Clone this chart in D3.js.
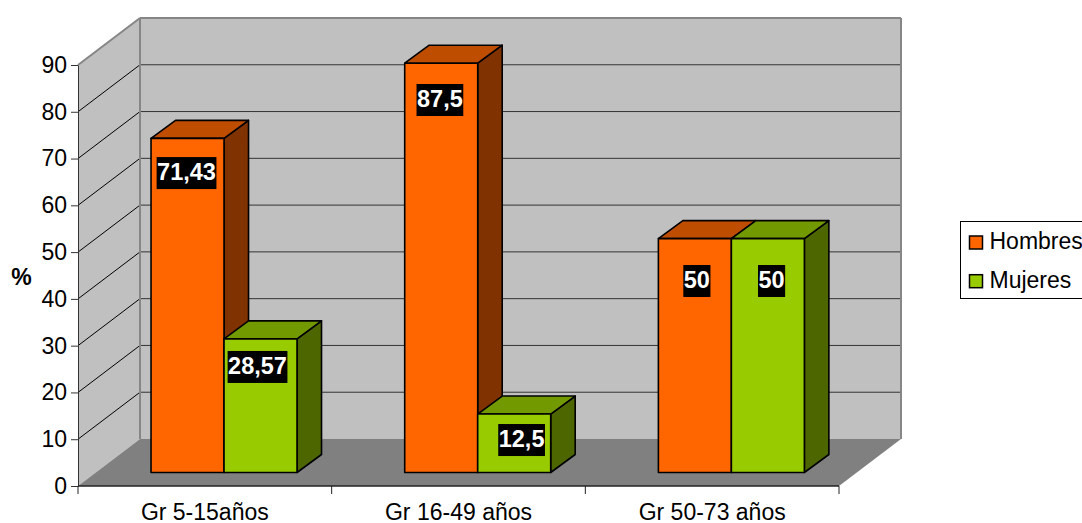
<!DOCTYPE html>
<html>
<head>
<meta charset="utf-8">
<script src="https://cdnjs.cloudflare.com/ajax/libs/d3/7.8.5/d3.min.js"></script>
<style>
	html, body { margin: 0; padding: 0; background: #fff; overflow: hidden; }
	text { font-family: "Liberation Sans", Arial, sans-serif; }
</style>
</head>
<body>
<div id="chart"></div>
<script>
const categories = ["Gr 5-15años", "Gr 16-49 años", "Gr 50-73 años"];
const seriesNames = ["Hombres", "Mujeres"];
const hombres = [71.43, 87.5, 50];
const mujeres = [28.57, 12.5, 50];
const labelsHombres = ["71,43", "87,5", "50"];
const labelsMujeres = ["28,57", "12,5", "50"];
const yTicks = d3.range(0, 100, 10);

// colori: fronte, sopra, lato
const colors = {
	Hombres: ["#ff6600", "#bf4d00", "#803300"],
	Mujeres: ["#99cc00", "#739900", "#4d6600"]
};

const width = 1082, height = 523;

// piano frontale del grafico e spostamento della parete di fondo
const front = { left: 78, right: 839, bottom: 486, top: 65 };
const depth = { dx: 62, dy: -47 };
// spostamento delle barre rispetto al piano frontale, e loro profondita'
const barShift = { dx: 19.2, dy: -13.5 };
const barDepth = { dx: 24.5, dy: -18 };

const y = d3.scaleLinear().domain([0, 90]).range([front.bottom, front.top]);
const x0 = d3.scaleBand().domain(categories).range([front.left, front.right])
	.paddingInner(0.4245).paddingOuter(0.2122);
const x1 = d3.scaleBand().domain(seriesNames).range([0, x0.bandwidth()]);

const svg = d3.select("#chart").append("svg")
	.attr("width", width)
	.attr("height", height);

const poly = pts => pts.map(p => p.join(",")).join(" ");
const backX0 = front.left + depth.dx, backX1 = front.right + depth.dx;

// pareti e pavimento
svg.append("polygon")
	.attr("points", poly([[front.left, y(0)], [backX0, y(0) + depth.dy], [backX0, y(90) + depth.dy], [front.left, y(90)]]))
	.attr("fill", "#c0c0c0");
svg.append("rect")
	.attr("x", backX0).attr("y", y(90) + depth.dy)
	.attr("width", backX1 - backX0).attr("height", y(0) - y(90))
	.attr("fill", "#c0c0c0");
svg.append("polygon")
	.attr("points", poly([[front.left, y(0)], [backX0, y(0) + depth.dy], [backX1, y(0) + depth.dy], [front.right, y(0)]]))
	.attr("fill", "#808080");

// griglia
yTicks.filter(d => d > 0 && d < 90).forEach(d => {
	svg.append("line")
		.attr("x1", front.left).attr("y1", y(d))
		.attr("x2", backX0).attr("y2", y(d) + depth.dy)
		.attr("stroke", "#000").attr("stroke-width", 1);
	svg.append("line")
		.attr("x1", backX0).attr("y1", y(d) + depth.dy)
		.attr("x2", backX1).attr("y2", y(d) + depth.dy)
		.attr("stroke", "#333").attr("stroke-width", 1);
});

// bordi grigi delle pareti
[
	[backX0, y(90) + depth.dy, backX1, y(90) + depth.dy],
	[front.left, y(90), backX0, y(90) + depth.dy],
	[backX0, y(90) + depth.dy, backX0, y(0) + depth.dy],
	[backX1, y(90) + depth.dy, backX1, y(0) + depth.dy]
].forEach(l => {
	svg.append("line")
		.attr("x1", l[0]).attr("y1", l[1])
		.attr("x2", l[2]).attr("y2", l[3])
		.attr("stroke", "#868686").attr("stroke-width", 2);
});

// barre
// nel riferimento le etichette non sono centrate: scarto [dx, dy] dal centro/cima della barra
const labelShift = {
	Hombres: [[-1, 34.7], [-1.3, 36.8], [2, 42.4]],
	Mujeres: [[-3, 28.1], [7.4, 26], [3.7, 42.4]]
};
const rows = [];
categories.forEach((c, i) => {
	rows.push({ cat: c, name: "Hombres", value: hombres[i], label: labelsHombres[i], shift: labelShift.Hombres[i] });
	rows.push({ cat: c, name: "Mujeres", value: mujeres[i], label: labelsMujeres[i], shift: labelShift.Mujeres[i] });
});

const bar = svg.selectAll(".bar").data(rows).enter().append("g").attr("class", "bar");
const bx = d => x0(d.cat) + x1(d.name) + barShift.dx;
const by = d => y(d.value) + barShift.dy;
const bw = x1.bandwidth();
const by0 = y(0) + barShift.dy;

bar.append("polygon")
	.attr("points", d => poly([[bx(d) + bw, by(d)], [bx(d) + bw + barDepth.dx, by(d) + barDepth.dy],
		[bx(d) + bw + barDepth.dx, by0 + barDepth.dy], [bx(d) + bw, by0]]))
	.attr("fill", d => colors[d.name][2]);
bar.append("polygon")
	.attr("points", d => poly([[bx(d), by(d)], [bx(d) + barDepth.dx, by(d) + barDepth.dy],
		[bx(d) + bw + barDepth.dx, by(d) + barDepth.dy], [bx(d) + bw, by(d)]]))
	.attr("fill", d => colors[d.name][1]);
bar.append("rect")
	.attr("x", bx).attr("y", by)
	.attr("width", bw).attr("height", d => by0 - by(d))
	.attr("fill", d => colors[d.name][0]);
bar.selectAll("polygon, rect")
	.attr("stroke", "#000").attr("stroke-width", 1.6).attr("stroke-linejoin", "round");

// etichette
bar.each(function (d) {
	const g = d3.select(this);
	const cx = bx(d) + bw / 2 + d.shift[0], cy = by(d) + d.shift[1];
	const t = g.append("text")
		.attr("x", cx).attr("y", cy)
		.attr("dy", ".3em")
		.attr("text-anchor", "middle")
		.attr("fill", "#fff")
		.attr("font-size", 23.5)
		.attr("font-weight", "bold")
		.text(d.label);
	const w = t.node().getComputedTextLength();
	g.insert("rect", "text")
		.attr("x", cx - w / 2 - 0.5).attr("y", cy - 16)
		.attr("width", w + 1).attr("height", 32)
		.attr("fill", "#000");
});

// asse y
const yAxis = d3.axisLeft(y).tickValues(yTicks).tickSize(7).tickSizeOuter(0).tickPadding(4);
const gy = svg.append("g").attr("transform", `translate(${front.left},0)`).call(yAxis);
gy.selectAll(".domain, line").attr("stroke", "#333");
gy.selectAll("text").attr("font-size", 23).attr("font-family", "Liberation Sans").attr("fill", "#000");

// asse x
const xEdges = d3.scaleLinear().domain([0, 3]).range([front.left, front.right]);
const gx = svg.append("g").attr("transform", `translate(0,${front.bottom})`);
gx.append("line")
	.attr("x1", front.left).attr("x2", front.right)
	.attr("stroke", "#222").attr("stroke-width", 1.5);
gx.selectAll(".edge").data([0, 1, 2, 3]).enter().append("line")
	.attr("class", "edge")
	.attr("x1", xEdges).attr("x2", xEdges)
	.attr("y1", 0).attr("y2", 8)
	.attr("stroke", "#222");
gx.selectAll(".cat").data(categories).enter().append("text")
	.attr("class", "cat")
	.attr("x", d => x0(d) + x0.bandwidth() / 2)
	.attr("y", 33.5)
	.attr("text-anchor", "middle")
	.attr("font-size", 23)
	.text(d => d);

// titolo asse
svg.append("text")
	.attr("x", 21.5).attr("y", 285)
	.attr("text-anchor", "middle")
	.attr("font-size", 23)
	.attr("font-weight", "bold")
	.text("%");

// legenda
svg.append("rect")
	.attr("x", 960.5).attr("y", 221.5)
	.attr("width", 130).attr("height", 77)
	.attr("fill", "#fff").attr("stroke", "#000");
const legend = svg.selectAll(".legend").data(seriesNames).enter().append("g")
	.attr("class", "legend")
	.attr("transform", (d, i) => `translate(969.5,${236 + i * 38.7})`);
legend.append("rect")
	.attr("width", 13).attr("height", 13)
	.attr("fill", d => colors[d][0])
	.attr("stroke", "#000").attr("stroke-width", 1.5);
legend.append("text")
	.attr("x", 20).attr("y", 13)
	.attr("font-size", 23)
	.text(d => d);
</script>
</body>
</html>
